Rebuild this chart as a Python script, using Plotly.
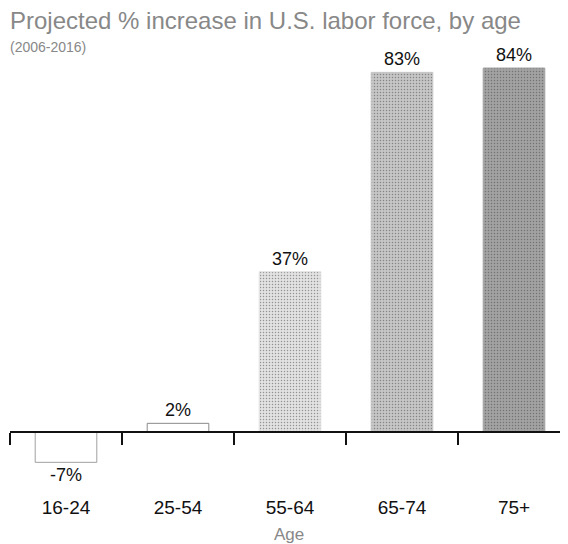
import plotly.graph_objects as go

categories = ["16-24", "25-54", "55-64", "65-74", "75+"]
values = [-7, 2, 37, 83, 84]
labels = ["-7%", "2%", "37%", "83%", "84%"]
fill_colors = ["#ffffff", "#ffffff", "#e2e2e2", "#c6c6c6", "#a2a2a2"]
line_colors = ["#a0a0a0", "#8a8a8a", "#e2e2e2", "#c6c6c6", "#a2a2a2"]
patterns = ["", "", ".", ".", "."]

FONT = "Liberation Sans, Arial"
BODY = 8  # default page body margin in the exported html

boundaries = [i - 0.5 for i in range(len(categories) + 1)]

fig = go.Figure()
fig.add_trace(go.Bar(
    x=categories, y=values, text=labels, textposition="outside",
    textfont=dict(family=FONT, size=18, color="#111"),
    marker=dict(color=fill_colors, line=dict(color=line_colors, width=1),
                pattern=dict(shape=patterns, fgcolor="#777", size=3, solidity=0.2,
                             fillmode="overlay")),
    width=0.55, cliponaxis=False, hoverinfo="skip",
))
# invisible helper so the boundary-tick axis gets rendered
fig.add_trace(go.Scatter(x=boundaries, y=[0] * len(boundaries), xaxis="x2", yaxis="y",
                         mode="markers", marker=dict(opacity=0), hoverinfo="skip",
                         showlegend=False))

W, H = 568 - BODY, 544 - BODY
plot_left = 10 - BODY
plot_top = 40 - BODY
zero_px = 432 - BODY
plot_bottom = 494 - BODY
plot_h = plot_bottom - plot_top
plot_w = W - plot_left
px_per_unit = 4.333
y_max = (zero_px - plot_top) / px_per_unit
y_min = -(plot_bottom - zero_px) / px_per_unit
x_range = [-0.5, -0.5 + plot_w / 112.0]

fig.update_layout(
    width=W, height=H,
    margin=dict(l=plot_left, r=0, t=plot_top, b=H - plot_bottom, autoexpand=False),
    paper_bgcolor="white", plot_bgcolor="white",
    showlegend=False,
    xaxis=dict(
        ticks="", showline=False, showgrid=False, range=x_range,
        automargin=False, zeroline=False,
        tickfont=dict(family=FONT, size=19, color="#111"),
        title=dict(text="Age", standoff=11,
                   font=dict(family=FONT, size=17, color="#888")),
    ),
    xaxis2=dict(
        overlaying="x", anchor="free", position=(plot_bottom - zero_px) / plot_h,
        type="linear", range=x_range, side="bottom",
        tickmode="array", tickvals=boundaries, ticks="outside", ticklen=12, tickwidth=2,
        tickcolor="#111", showticklabels=False, showline=True, linecolor="#111",
        linewidth=2, showgrid=False, zeroline=False, automargin=False,
        layer="above traces",
    ),
    yaxis=dict(range=[y_min, y_max], visible=False, showgrid=False, zeroline=False,
               automargin=False),
    annotations=[
        dict(text="Projected % increase in U.S. labor force, by age",
             xref="paper", yref="paper", x=-plot_left / plot_w, y=1 + (plot_top - (20 - BODY)) / plot_h,
             xanchor="left", yanchor="middle",
             showarrow=False, font=dict(family=FONT, size=24, color="#888")),
        dict(text="(2006-2016)",
             xref="paper", yref="paper", x=-plot_left / plot_w, y=1 - ((47 - BODY) - plot_top) / plot_h,
             xanchor="left", yanchor="middle",
             showarrow=False, font=dict(family=FONT, size=14, color="#888")),
    ],
)

fig.write_html("out.html")
